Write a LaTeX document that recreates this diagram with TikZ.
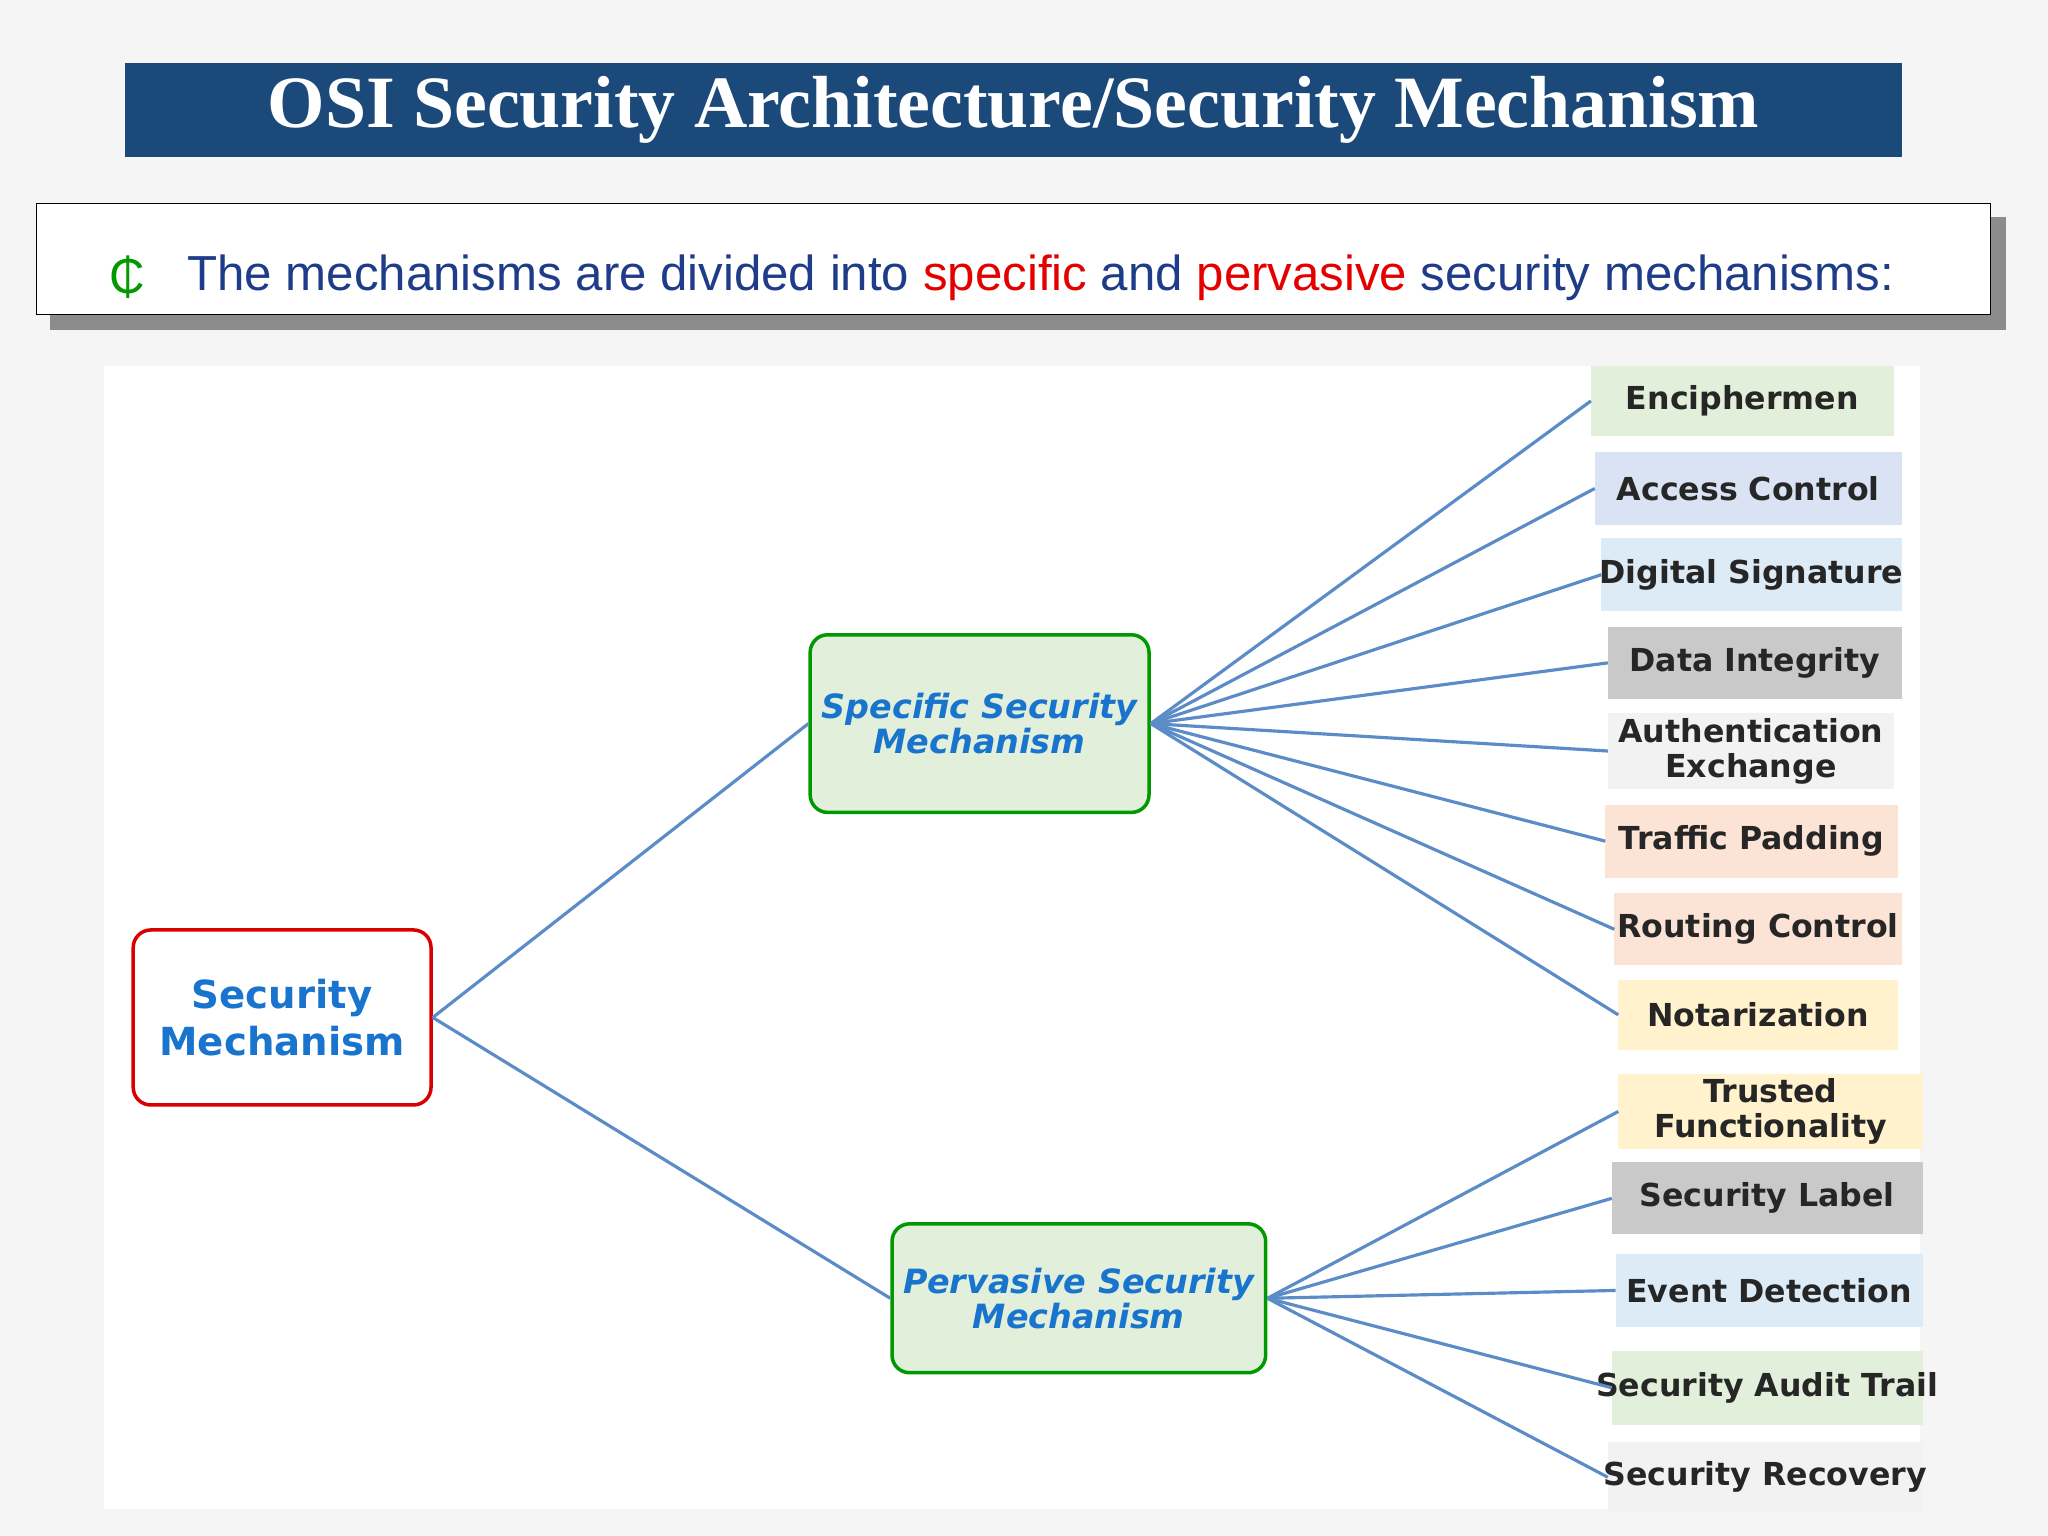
\documentclass[tikz,border=0pt]{standalone}
\usepackage{fontspec}
\setmainfont{DejaVu Sans}
\newfontfamily\titlefont{Liberation Serif}
\newfontfamily\arialfont{Liberation Sans}
\definecolor{navy}{HTML}{1B4A7A}
\definecolor{txtblue}{HTML}{1F3C88}
\definecolor{nodeblue}{HTML}{1874CD}
\definecolor{lnblue}{HTML}{5B8CC8}
\definecolor{cgreen}{HTML}{E2EFDA}
\definecolor{cblue}{HTML}{DAE3F3}
\definecolor{cblue2}{HTML}{DDEBF7}
\definecolor{cgray}{HTML}{C9C9C9}
\definecolor{clight}{HTML}{F2F2F2}
\definecolor{corange}{HTML}{FBE4D5}
\definecolor{cyellow}{HTML}{FFF2CC}
\begin{document}
\begin{tikzpicture}[x=0.013061cm,y=-0.013061cm,
  leaf/.style={font=\fontsize{9}{10}\selectfont\bfseries, text=black!85, align=center, inner sep=0},
  conn/.style={draw=lnblue, line width=0.9pt},
  main/.style={rounded corners=5pt, line width=1pt, align=center, text=nodeblue}]
\useasboundingbox (0,0) rectangle (1568,1176);
\fill[black!4] (0,0) rectangle (1568,1176);
\fill[white] (80,280) rectangle (1470,1155);
% title
\node[fill=navy, minimum width=1360*0.013061cm, minimum height=72*0.013061cm, inner sep=0,
  text=white, font=\titlefont\bfseries\fontsize{21}{24}\selectfont] (title) at (776,84) {OSI Security Architecture/Security Mechanism};
% bullet box
\fill[black!45] (38,166) rectangle (1536,253);
\node[draw=black, fill=white, minimum width=1496*0.013061cm, minimum height=85*0.013061cm, inner sep=0] (box) at (776,198.5) {};
\node[anchor=west, inner sep=0, font=\arialfont\fontsize{14}{16}\selectfont, text=green!60!black] (bul) at (83,212) {₵};
\node[anchor=west, inner sep=0, font=\arialfont\fontsize{14}{16}\selectfont, text=txtblue] (btxt) at (143,213)
  {The mechanisms are divided into \textcolor{red!90!black}{specific} and \textcolor{red!90!black}{pervasive} security mechanisms:};
% main nodes
\node[main, draw=red!85!black, fill=white, minimum width=228*0.013061cm, minimum height=134*0.013061cm,
  font=\fontsize{11}{13.5}\selectfont\bfseries] (sm) at (216,779) {Security\\Mechanism};
\node[main, draw=green!60!black, fill=cgreen, minimum width=236*0.013061cm, minimum height=136*0.013061cm,
  font=\fontsize{9.5}{10}\selectfont\bfseries\itshape] (ssm) at (750,554) {Specific Security\\Mechanism};
\node[main, draw=green!60!black, fill=cgreen, minimum width=242*0.013061cm, minimum height=114*0.013061cm,
  font=\fontsize{9.5}{10}\selectfont\bfseries\itshape] (psm) at (826,994) {Pervasive Security\\Mechanism};
\draw[conn] (sm.east) -- (ssm.west);
\draw[conn] (sm.east) -- (psm.west);
% leaves
\foreach \n/\xa/\ya/\xb/\yb/\c/\t in {
 a/1218/280/1450/334/cgreen/Enciphermen,
 b/1221/346/1456/402/cblue/Access Control,
 c/1226/412/1456/468/cblue2/Digital Signature,
 d/1231/480/1456/535/cgray/Data Integrity,
 e/1231/546/1450/604/clight/{Authentication\\Exchange},
 f/1229/616/1453/672/corange/Traffic Padding,
 g/1236/684/1456/739/corange/Routing Control,
 h/1239/750/1453/804/cyellow/Notarization,
 i/1239/822/1472/880/cyellow/{Trusted\\Functionality},
 j/1234/890/1472/945/cgray/Security Label,
 k/1237/960/1472/1016/cblue2/Event Detection,
 l/1234/1034/1472/1091/cgreen/Security Audit Trail,
 m/1231/1104/1472/1158/clight/Security Recovery}{
  \fill[\c] (\xa,\ya) rectangle (\xb,\yb);
  \node[leaf] (\n) at ({(\xa+\xb)/2},{(\ya+\yb)/2}) {\t};
  \coordinate (\n w) at (\xa,{(\ya+\yb)/2});
}
\foreach \n in {a,b,c,d,e,f,g,h} \draw[conn] (ssm.east) -- (\n w);
\foreach \n in {i,j,k,l,m} \draw[conn] (psm.east) -- (\n w);
\end{tikzpicture}
\end{document}
